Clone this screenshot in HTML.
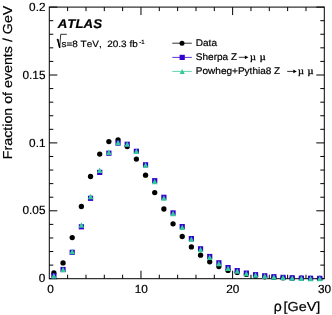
<!DOCTYPE html>
<html><head><meta charset="utf-8"><title>plot</title>
<style>
html,body{margin:0;padding:0;background:#fff;}
body{width:332px;height:315px;overflow:hidden;font-family:"Liberation Sans",sans-serif;}
svg{display:block;will-change:transform;filter:blur(0.35px)}
text{font-family:"Liberation Sans",sans-serif;fill:#000;font-kerning:none;text-rendering:geometricPrecision;stroke:#000;stroke-width:0.2px}
.tl{font-size:11.8px}
.lg{font-size:9.7px}
.mu{font-family:"Liberation Serif",serif;font-size:11px;stroke:#000;stroke-width:0.4px}
</style></head><body>
<svg width="332" height="315" viewBox="0 0 332 315">
<rect width="332" height="315" fill="#fff"/>
<rect x="49.3" y="7.1" width="275.0" height="271.6" fill="none" stroke="#000" stroke-width="1"/>
<path d="M67.63 278.7v-4.0M67.63 7.1v4.0M85.97 278.7v-4.0M85.97 7.1v4.0M104.30 278.7v-4.0M104.30 7.1v4.0M122.63 278.7v-4.0M122.63 7.1v4.0M140.97 278.7v-8.0M140.97 7.1v8.0M159.30 278.7v-4.0M159.30 7.1v4.0M177.63 278.7v-4.0M177.63 7.1v4.0M195.97 278.7v-4.0M195.97 7.1v4.0M214.30 278.7v-4.0M214.30 7.1v4.0M232.63 278.7v-8.0M232.63 7.1v8.0M250.97 278.7v-4.0M250.97 7.1v4.0M269.30 278.7v-4.0M269.30 7.1v4.0M287.63 278.7v-4.0M287.63 7.1v4.0M305.97 278.7v-4.0M305.97 7.1v4.0M49.3 278.70h8.0M324.3 278.70h-8.0M49.3 265.12h4.0M324.3 265.12h-4.0M49.3 251.54h4.0M324.3 251.54h-4.0M49.3 237.96h4.0M324.3 237.96h-4.0M49.3 224.38h4.0M324.3 224.38h-4.0M49.3 210.80h8.0M324.3 210.80h-8.0M49.3 197.22h4.0M324.3 197.22h-4.0M49.3 183.64h4.0M324.3 183.64h-4.0M49.3 170.06h4.0M324.3 170.06h-4.0M49.3 156.48h4.0M324.3 156.48h-4.0M49.3 142.90h8.0M324.3 142.90h-8.0M49.3 129.32h4.0M324.3 129.32h-4.0M49.3 115.74h4.0M324.3 115.74h-4.0M49.3 102.16h4.0M324.3 102.16h-4.0M49.3 88.58h4.0M324.3 88.58h-4.0M49.3 75.00h8.0M324.3 75.00h-8.0M49.3 61.42h4.0M324.3 61.42h-4.0M49.3 47.84h4.0M324.3 47.84h-4.0M49.3 34.26h4.0M324.3 34.26h-4.0M49.3 20.68h4.0M324.3 20.68h-4.0M49.3 7.10h8.0M324.3 7.10h-8.0" stroke="#000" stroke-width="1" fill="none"/>
<circle cx="53.88" cy="272.90" r="2.65" fill="#000"/>
<circle cx="63.05" cy="262.90" r="2.65" fill="#000"/>
<circle cx="72.22" cy="237.60" r="2.65" fill="#000"/>
<circle cx="81.38" cy="206.50" r="2.65" fill="#000"/>
<circle cx="90.55" cy="176.50" r="2.65" fill="#000"/>
<circle cx="99.72" cy="154.10" r="2.65" fill="#000"/>
<circle cx="108.88" cy="141.60" r="2.65" fill="#000"/>
<circle cx="118.05" cy="139.80" r="2.65" fill="#000"/>
<circle cx="127.22" cy="146.60" r="2.65" fill="#000"/>
<circle cx="136.38" cy="159.10" r="2.65" fill="#000"/>
<circle cx="145.55" cy="175.20" r="2.65" fill="#000"/>
<circle cx="154.72" cy="192.60" r="2.65" fill="#000"/>
<circle cx="163.88" cy="209.00" r="2.65" fill="#000"/>
<circle cx="173.05" cy="223.80" r="2.65" fill="#000"/>
<circle cx="182.22" cy="236.50" r="2.65" fill="#000"/>
<circle cx="191.38" cy="246.90" r="2.65" fill="#000"/>
<circle cx="200.55" cy="255.20" r="2.65" fill="#000"/>
<circle cx="209.72" cy="261.80" r="2.65" fill="#000"/>
<circle cx="218.88" cy="266.60" r="2.65" fill="#000"/>
<circle cx="228.05" cy="270.40" r="2.65" fill="#000"/>
<circle cx="237.22" cy="272.40" r="2.65" fill="#000"/>
<circle cx="246.38" cy="274.40" r="2.65" fill="#000"/>
<circle cx="255.55" cy="275.90" r="2.65" fill="#000"/>
<circle cx="264.72" cy="276.80" r="2.65" fill="#000"/>
<circle cx="273.88" cy="277.40" r="2.65" fill="#000"/>
<circle cx="283.05" cy="277.80" r="2.65" fill="#000"/>
<circle cx="292.22" cy="278.00" r="2.65" fill="#000"/>
<circle cx="301.38" cy="278.20" r="2.65" fill="#000"/>
<circle cx="310.55" cy="278.30" r="2.65" fill="#000"/>
<circle cx="319.72" cy="278.40" r="2.65" fill="#000"/>
<rect x="51.28" y="273.20" width="5.20" height="5.20" fill="#3300cc"/>
<rect x="60.45" y="266.90" width="5.20" height="5.20" fill="#3300cc"/>
<rect x="69.62" y="249.70" width="5.20" height="5.20" fill="#3300cc"/>
<rect x="78.78" y="224.20" width="5.20" height="5.20" fill="#3300cc"/>
<rect x="87.95" y="195.70" width="5.20" height="5.20" fill="#3300cc"/>
<rect x="97.12" y="169.80" width="5.20" height="5.20" fill="#3300cc"/>
<rect x="106.28" y="150.60" width="5.20" height="5.20" fill="#3300cc"/>
<rect x="115.45" y="140.50" width="5.20" height="5.20" fill="#3300cc"/>
<rect x="124.62" y="141.70" width="5.20" height="5.20" fill="#3300cc"/>
<rect x="133.78" y="148.70" width="5.20" height="5.20" fill="#3300cc"/>
<rect x="142.95" y="162.20" width="5.20" height="5.20" fill="#3300cc"/>
<rect x="152.12" y="178.10" width="5.20" height="5.20" fill="#3300cc"/>
<rect x="161.28" y="194.70" width="5.20" height="5.20" fill="#3300cc"/>
<rect x="170.45" y="210.30" width="5.20" height="5.20" fill="#3300cc"/>
<rect x="179.62" y="224.00" width="5.20" height="5.20" fill="#3300cc"/>
<rect x="188.78" y="236.00" width="5.20" height="5.20" fill="#3300cc"/>
<rect x="197.95" y="246.20" width="5.20" height="5.20" fill="#3300cc"/>
<rect x="207.12" y="253.90" width="5.20" height="5.20" fill="#3300cc"/>
<rect x="216.28" y="260.20" width="5.20" height="5.20" fill="#3300cc"/>
<rect x="225.45" y="265.00" width="5.20" height="5.20" fill="#3300cc"/>
<rect x="234.62" y="268.00" width="5.20" height="5.20" fill="#3300cc"/>
<rect x="243.78" y="270.50" width="5.20" height="5.20" fill="#3300cc"/>
<rect x="252.95" y="272.10" width="5.20" height="5.20" fill="#3300cc"/>
<rect x="262.12" y="273.20" width="5.20" height="5.20" fill="#3300cc"/>
<rect x="271.28" y="274.10" width="5.20" height="5.20" fill="#3300cc"/>
<rect x="280.45" y="274.80" width="5.20" height="5.20" fill="#3300cc"/>
<rect x="289.62" y="275.30" width="5.20" height="5.20" fill="#3300cc"/>
<rect x="298.78" y="275.60" width="5.20" height="5.20" fill="#3300cc"/>
<rect x="307.95" y="275.70" width="5.20" height="5.20" fill="#3300cc"/>
<rect x="317.12" y="275.80" width="5.20" height="5.20" fill="#3300cc"/>
<path d="M51.13 278.55L56.63 278.55L53.88 273.05Z" fill="#33cc99"/>
<path d="M60.30 272.15L65.80 272.15L63.05 266.65Z" fill="#33cc99"/>
<path d="M69.47 254.35L74.97 254.35L72.22 248.85Z" fill="#33cc99"/>
<path d="M78.63 227.85L84.13 227.85L81.38 222.35Z" fill="#33cc99"/>
<path d="M87.80 199.15L93.30 199.15L90.55 193.65Z" fill="#33cc99"/>
<path d="M96.97 172.95L102.47 172.95L99.72 167.45Z" fill="#33cc99"/>
<path d="M106.13 154.95L111.63 154.95L108.88 149.45Z" fill="#33cc99"/>
<path d="M115.30 145.15L120.80 145.15L118.05 139.65Z" fill="#33cc99"/>
<path d="M124.47 146.65L129.97 146.65L127.22 141.15Z" fill="#33cc99"/>
<path d="M133.63 154.05L139.13 154.05L136.38 148.55Z" fill="#33cc99"/>
<path d="M142.80 167.85L148.30 167.85L145.55 162.35Z" fill="#33cc99"/>
<path d="M151.97 184.25L157.47 184.25L154.72 178.75Z" fill="#33cc99"/>
<path d="M161.13 200.75L166.63 200.75L163.88 195.25Z" fill="#33cc99"/>
<path d="M170.30 216.35L175.80 216.35L173.05 210.85Z" fill="#33cc99"/>
<path d="M179.47 230.05L184.97 230.05L182.22 224.55Z" fill="#33cc99"/>
<path d="M188.63 242.05L194.13 242.05L191.38 236.55Z" fill="#33cc99"/>
<path d="M197.80 252.35L203.30 252.35L200.55 246.85Z" fill="#33cc99"/>
<path d="M206.97 259.95L212.47 259.95L209.72 254.45Z" fill="#33cc99"/>
<path d="M216.13 266.35L221.63 266.35L218.88 260.85Z" fill="#33cc99"/>
<path d="M225.30 270.95L230.80 270.95L228.05 265.45Z" fill="#33cc99"/>
<path d="M234.47 273.85L239.97 273.85L237.22 268.35Z" fill="#33cc99"/>
<path d="M243.63 276.25L249.13 276.25L246.38 270.75Z" fill="#33cc99"/>
<path d="M252.80 277.75L258.30 277.75L255.55 272.25Z" fill="#33cc99"/>
<path d="M261.97 278.85L267.47 278.85L264.72 273.35Z" fill="#33cc99"/>
<path d="M271.13 279.65L276.63 279.65L273.88 274.15Z" fill="#33cc99"/>
<path d="M280.30 280.35L285.80 280.35L283.05 274.85Z" fill="#33cc99"/>
<path d="M289.47 280.75L294.97 280.75L292.22 275.25Z" fill="#33cc99"/>
<path d="M298.63 281.05L304.13 281.05L301.38 275.55Z" fill="#33cc99"/>
<path d="M307.80 281.15L313.30 281.15L310.55 275.65Z" fill="#33cc99"/>
<path d="M316.97 281.15L322.47 281.15L319.72 275.65Z" fill="#33cc99"/>
<!-- y tick labels -->
<g class="tl" text-anchor="end">
<text x="45.5" y="11">0.2</text>
<text x="45.5" y="78.8">0.15</text>
<text x="45.5" y="146.5">0.1</text>
<text x="45.5" y="214.3">0.05</text>
<text x="45.3" y="282">0</text>
</g>
<!-- x tick labels -->
<g class="tl" text-anchor="middle">
<text x="50.6" y="293">0</text>
<text x="141.2" y="293">10</text>
<text x="232.8" y="293">20</text>
<text x="324.5" y="293">30</text>
</g>
<!-- axis titles -->
<text transform="translate(12.3 159.2) rotate(-90) scale(1.095 1)" font-size="13">Fraction of events / GeV</text>
<text transform="translate(283.6 311.1) scale(1.105 1)" font-size="13">[GeV]</text>
<text x="273.7" y="311.1" font-size="14">ρ</text>
<!-- ATLAS label -->
<text transform="translate(57.8 28.3) scale(1.045 1)" font-size="12.7" font-weight="bold" font-style="italic">ATLAS</text>
<path d="M56.6 39.7L57.7 39.1L59.7 48L60.7 34.3H66.8" fill="none" stroke="#000" stroke-width="0.8"/><path d="M57.7 39.1L59.7 47.6" fill="none" stroke="#000" stroke-width="1.5"/>
<text transform="translate(61.5 46.5) scale(1.085 1)" font-size="9.2" stroke-width="0.12" xml:space="preserve">s=8 TeV,  20.3 fb</text>
<text x="139.3" y="44" font-size="6" stroke-width="0.1">-1</text>
<!-- legend -->
<path d="M172.3 43.2H191.8" stroke="#000" stroke-width="0.8"/>
<circle cx="182" cy="43.2" r="2.5" fill="#000"/>
<path d="M172.3 57.4H191.8" stroke="#3300cc" stroke-width="0.8"/>
<rect x="179.6" y="54.8" width="5.2" height="5.2" fill="#3300cc"/>
<path d="M172.3 71.4H191.8" stroke="#33cc99" stroke-width="0.8"/>
<path d="M179.6 73.9H184.8L182.2 68.9Z" fill="#33cc99"/>
<text class="lg" transform="translate(195.8 46) scale(1.035 1)">Data</text>
<text class="lg" transform="translate(195.8 60.3) scale(1.035 1)">Sherpa Z</text>
<text class="lg" transform="translate(195.8 74.2) scale(1.035 1)">Powheg+Pythia8 Z</text>
<!-- arrows -->
<path d="M238.8 57.3H246" stroke="#000" stroke-width="0.8"/><path d="M248.4 57.3L244.9 55.4V59.2Z" fill="#000"/>
<path d="M287.2 71.4H294.4" stroke="#000" stroke-width="0.8"/><path d="M296.8 71.4L293.3 69.5V73.3Z" fill="#000"/>
<text class="mu" transform="translate(250.1 60.4) scale(0.94 0.86)">µ</text>
<text class="mu" transform="translate(259.8 60.4) scale(0.94 0.86)">µ</text>
<text class="mu" transform="translate(298 74.4) scale(0.94 0.86)">µ</text>
<text class="mu" transform="translate(307.5 74.4) scale(0.94 0.86)">µ</text>
</svg>
</body></html>
